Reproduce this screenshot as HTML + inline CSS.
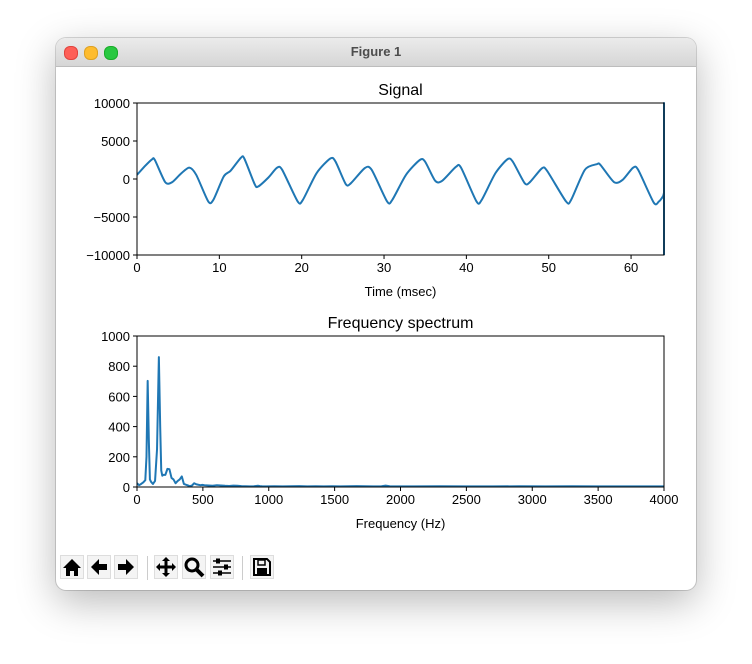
<!DOCTYPE html>
<html><head><meta charset="utf-8"><style>
html,body{margin:0;padding:0;background:#fff;width:752px;height:664px;overflow:hidden;font-family:"Liberation Sans","DejaVu Sans",sans-serif}
#win{position:absolute;left:56px;top:38px;width:640px;height:552px;border-radius:10px;background:#fff;box-shadow:0 12px 40px rgba(0,0,0,0.28),0 0 0 1px rgba(0,0,0,0.15);overflow:hidden}
#title{position:absolute;left:0;top:0;width:640px;height:28px;background:linear-gradient(#ebebeb,#d6d6d6);border-bottom:1px solid #bdbdbd;text-align:center;font-size:13px;font-weight:bold;color:#4d4d4d;line-height:28px}
.dot{position:absolute;top:8px;width:12px;height:12px;border-radius:6px}
.tb{position:absolute;top:517px;width:24px;height:24px;background:#f4f4f4;border:1px solid #ddd;box-sizing:border-box}
.sep{position:absolute;top:518px;width:1px;height:24px;background:#ccc}
svg text{font-family:"Liberation Sans","DejaVu Sans",sans-serif}
</style></head><body>
<div id="win">
<div id="title">Figure 1</div>
<div class="dot" style="left:8px;background:#fe5f57;border:0.5px solid #e0443e"></div>
<div class="dot" style="left:28px;background:#febc2e;border:0.5px solid #dea123"></div>
<div class="dot" style="left:48px;background:#28c840;border:0.5px solid #1aab29"></div>

<div class="tb" style="left:4px"><svg width="22" height="22" viewBox="0 0 22 22"><path d="M2 12 L11 3 L20 12 L17 12 L17 20 L13 20 L13 15 L9 15 L9 20 L5 20 L5 12 Z" fill="#000"/></svg></div>
<div class="tb" style="left:31px"><svg width="22" height="22" viewBox="0 0 22 22"><path d="M3 11 L11 3 L11 8 L19 8 L19 14 L11 14 L11 19 Z" fill="#000"/></svg></div>
<div class="tb" style="left:58px"><svg width="22" height="22" viewBox="0 0 22 22"><path d="M19 11 L11 3 L11 8 L3 8 L3 14 L11 14 L11 19 Z" fill="#000"/></svg></div>
<div class="sep" style="left:91px"></div>
<div class="tb" style="left:98px"><svg width="22" height="22" viewBox="0 0 22 22"><path d="M11 1 L15 5 L12.5 5 L12.5 9.5 L17 9.5 L17 7 L21 11 L17 15 L17 12.5 L12.5 12.5 L12.5 17 L15 17 L11 21 L7 17 L9.5 17 L9.5 12.5 L5 12.5 L5 15 L1 11 L5 7 L5 9.5 L9.5 9.5 L9.5 5 L7 5 Z" fill="#000"/></svg></div>
<div class="tb" style="left:126px"><svg width="22" height="22" viewBox="0 0 22 22"><circle cx="9" cy="9" r="6" fill="none" stroke="#000" stroke-width="3"/><path d="M13 13 L20 20" stroke="#000" stroke-width="4"/></svg></div>
<div class="tb" style="left:154px"><svg width="22" height="22" viewBox="0 0 22 22"><path d="M2 5H20M2 11H20M2 17H20" stroke="#000" stroke-width="1.5"/><rect x="5" y="2.5" width="4" height="5" fill="#000"/><rect x="13" y="8.5" width="4" height="5" fill="#000"/><rect x="7" y="14.5" width="4" height="5" fill="#000"/></svg></div>
<div class="sep" style="left:186px"></div>
<div class="tb" style="left:194px"><svg width="22" height="22" viewBox="0 0 22 22"><path d="M3 3 H16 L19 6 V19 H3 Z" fill="none" stroke="#000" stroke-width="2"/><rect x="7" y="4" width="7" height="5" fill="none" stroke="#000" stroke-width="1.5"/><rect x="6" y="12" width="10" height="6" fill="#000"/></svg></div>
</div>

<svg id="chart" width="752" height="664" style="position:absolute;left:0;top:0"></svg>
<script>
// Signal data (time ms, amplitude)
const sigT = [0,0.92,1.84,2.17,3.43,4.26,5.31,6.35,7.19,8.65,9.27,10.53,11.36,12.62,13.03,14.29,14.71,15.96,17.0,17.63,19.51,20.14,21.81,23.48,24.1,25.36,25.98,27.66,28.5,30.37,31.0,32.67,34.34,34.97,36.22,37.06,38.73,39.35,41.23,41.86,43.53,44.99,45.62,47.08,47.71,49.17,49.8,52.1,52.72,54.39,55.85,56.27,57.94,58.98,60.24,60.86,62.75,63.37,63.92,64,64,64];
const sigV = [550,1650,2600,2500,-420,-420,680,1500,550,-2950,-2750,330,1080,2800,2700,-680,-990,200,1480,1210,-2950,-2750,770,2700,2310,-680,-550,1430,1210,-2950,-2750,550,2500,2310,-240,-240,1600,1500,-2950,-2750,770,2600,2310,-550,-420,1400,1080,-2950,-2750,1210,1950,1870,-420,-110,1480,1210,-3100,-2970,-2180,-1800,10000,-10000];
const sigXTicks = [0,10,20,30,40,50,60];
const sigYTicks = [-10000,-5000,0,5000,10000];
// Spectrum data (Hz, magnitude)
const specF = [0,16,31,47,63,72,81,90,98,106,121,137,152,166,176,184,192,199,215,231,246,262,277,293,309,324,340,356,371,387,402,418,434,449,465,481,496,512,543,574,606,637,668,699,731,762,793,824,856,887,918,934,949,981,1043,1106,1168,1231,1293,1356,1418,1481,1543,1606,1668,1731,1793,1856,1887,1918,1981,2100,2300,2500,2700,2900,3100,3300,3500,3700,3900,4000];
const specM = [25,12,20,30,45,200,703,300,50,35,20,40,250,860,400,110,75,80,80,120,118,60,50,25,40,50,70,20,15,10,5,10,25,18,15,12,14,12,10,8,12,10,8,7,9,8,6,5,4,5,8,6,5,4,5,4,5,6,4,5,4,5,4,5,6,5,4,5,9,5,4,4,5,4,4,5,4,5,4,4,4,4];
const specXTicks = [0,500,1000,1500,2000,2500,3000,3500,4000];
const specYTicks = [0,200,400,600,800,1000];

const svg = document.getElementById('chart');
const NS = 'http://www.w3.org/2000/svg';
function mk(tag, attrs, parent){const e=document.createElementNS(NS,tag);for(const k in attrs)e.setAttribute(k,attrs[k]);(parent||svg).appendChild(e);return e;}

function smoothPath(P){
  let d='M'+P[0][0].toFixed(2)+','+P[0][1].toFixed(2);
  for(let i=0;i<P.length-1;i++){
    const p0=P[Math.max(0,i-1)],p1=P[i],p2=P[i+1],p3=P[Math.min(P.length-1,i+2)];
    if(Math.abs(p2[0]-p1[0])<0.01||Math.abs(p1[0]-p0[0])<0.01||Math.abs(p3[0]-p2[0])<0.01){d+=' L'+p2[0].toFixed(2)+','+p2[1].toFixed(2);continue;}
    const t=0.13;
    const c1=[p1[0]+(p2[0]-p0[0])*t,p1[1]+(p2[1]-p0[1])*t];
    const c2=[p2[0]-(p3[0]-p1[0])*t,p2[1]-(p3[1]-p1[1])*t];
    d+=' C'+c1[0].toFixed(2)+','+c1[1].toFixed(2)+' '+c2[0].toFixed(2)+','+c2[1].toFixed(2)+' '+p2[0].toFixed(2)+','+p2[1].toFixed(2);
  }
  return d;
}

function axes(name, L, R, T, B, xmin, xmax, ymin, ymax, xt, yt, xs, ys, title, xlabel, smooth){
  const g = mk('g',{});
  
  
  const X = v => L + (v - xmin) / (xmax - xmin) * (R - L);
  const Y = v => B - (v - ymin) / (ymax - ymin) * (B - T);
  const cp = mk('clipPath',{id:'clip-'+name},g); mk('rect',{x:L,y:T-1,width:R-L+1,height:B-T+2},cp);
  const P = xs.map((x,i)=>[X(x),Y(ys[i])]);
  let line;
  if(smooth){
    line = mk('path',{d:smoothPath(P),fill:'none',stroke:'#1f77b4','stroke-width':2,'stroke-linejoin':'round','clip-path':'url(#clip-'+name+')'},g);
  } else {
    line = mk('polyline',{points:P.map(p=>p[0].toFixed(2)+','+p[1].toFixed(2)).join(' '),fill:'none',stroke:'#1f77b4','stroke-width':2,'stroke-linejoin':'round','clip-path':'url(#clip-'+name+')'},g);
  }
  
  
  mk('rect',{x:L,y:T,width:R-L,height:B-T,fill:'none',stroke:'#000','stroke-width':1},g);
  xt.forEach(v=>{const x=X(v);mk('line',{x1:x,x2:x,y1:B,y2:B+4,stroke:'#000'},g);
    const t=mk('text',{x:x,y:B+17,'text-anchor':'middle','font-size':13},g);t.textContent=v;
    
    });
  yt.forEach(v=>{const y=Y(v);mk('line',{x1:L-4,x2:L,y1:y,y2:y,stroke:'#000'},g);
    const t=mk('text',{x:L-7,y:y+5,'text-anchor':'end','font-size':13},g);t.textContent=(v<0?'\u2212'+(-v):v);
    
    });
  const tt=mk('text',{x:(L+R)/2,y:T-8,'text-anchor':'middle','font-size':16},g);tt.textContent=title;
  
  
  const xl=mk('text',{x:(L+R)/2,y:B+41,'text-anchor':'middle','font-size':13},g);xl.textContent=xlabel;
  
  
}
axes('signal-plot',137,664,103,255,0,64,-10000,10000,sigXTicks,sigYTicks,sigT,sigV,'Signal','Time (msec)',true);
axes('spectrum-plot',137,664,336,487,0,4000,0,1000,specXTicks,specYTicks,specF,specM,'Frequency spectrum','Frequency (Hz)',false);
</script>
</body></html>
